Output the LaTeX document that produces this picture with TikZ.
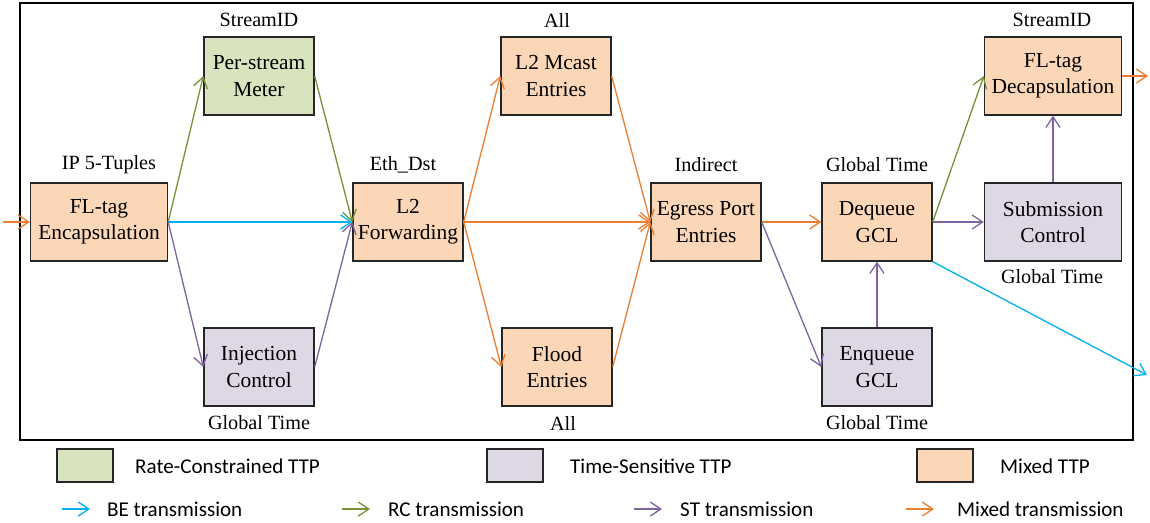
\documentclass[tikz,border=0pt]{standalone}
\usepackage{fontspec}
\setmainfont{Liberation Serif}
\newfontfamily\boxfont{Liberation Serif}
\newfontfamily\legendfont{Carlito}
\usetikzlibrary{arrows.meta}

\definecolor{mixfill}{HTML}{FBD7B8}
\definecolor{rcfill}{HTML}{D7E4BD}
\definecolor{stfill}{HTML}{DED8E6}
\definecolor{mixline}{HTML}{ED7D31}
\definecolor{rcline}{HTML}{77933C}
\definecolor{stline}{HTML}{8064A2}
\definecolor{beline}{HTML}{00B0F0}

\begin{document}
\begin{tikzpicture}[x=0.02cm,y=-0.02cm,
  ttp/.style={draw=black!85,line width=0.8pt,align=center,inner sep=0pt,
    minimum width=2.2cm,minimum height=1.56cm,
    font=\boxfont\fontsize{12.2}{15}\selectfont},
  wide/.style={minimum width=2.74cm},
  mixbox/.style={ttp,fill=mixfill},
  rcbox/.style={ttp,fill=rcfill},
  stbox/.style={ttp,fill=stfill},
  lab/.style={font=\boxfont\fontsize{11.5}{14}\selectfont},
  tip/.style={-{Straight Barb[length=6pt,width=8pt]},line width=0.75pt},
  mixed/.style={tip,mixline},
  rc/.style={tip,rcline},
  st/.style={tip,stline},
  be/.style={tip,beline},
  legtxt/.style={anchor=west,font=\legendfont\fontsize{12}{14}\selectfont}]
  \useasboundingbox (0,0) rectangle (1150,522);
  \draw[line width=0.8pt] (20,3) rectangle (1133,440);

  % boxes
  \node[mixbox,wide] (enc) at (99,222) {FL-tag\\Encapsulation};
  \node[rcbox] (meter) at (259,76) {Per-stream\\Meter};
  \node[stbox] (inj) at (259,367) {Injection\\Control};
  \node[mixbox] (fwd) at (408,222) {L2\\Forwarding};
  \node[mixbox] (mcast) at (556,76) {L2 Mcast\\Entries};
  \node[mixbox] (flood) at (557,367) {Flood\\Entries};
  \node[mixbox] (egress) at (706,222) {Egress Port\\Entries};
  \node[mixbox] (deq) at (877,222) {Dequeue\\GCL};
  \node[stbox] (enq) at (877,367) {Enqueue\\GCL};
  \node[stbox,wide] (sub) at (1053,222) {Submission\\Control};
  \node[mixbox,wide] (dec) at (1053,76) {FL-tag\\Decapsulation};

  % lookup keys
  \node[lab] (k1) at (109,165) {IP 5-Tuples};
  \node[lab] (k2) at (259,20) {StreamID};
  \node[lab] (k3) at (259,423) {Global Time};
  \node[lab] (k4) at (403,165) {Eth\_Dst};
  \node[lab] (k5) at (557,20) {All};
  \node[lab] (k6) at (563,423) {All};
  \node[lab] (k7) at (706,165) {Indirect};
  \node[lab] (k8) at (877,165) {Global Time};
  \node[lab] (k9) at (877,423) {Global Time};
  \node[lab] (k10) at (1052,277) {Global Time};
  \node[lab] (k11) at (1052,20) {StreamID};

  % connectors
  \coordinate (in) at (3,222);
  \coordinate (out) at (1148,76);
  \coordinate (beout) at (1147,375);
  \draw[mixed] (in) -- (enc.west);
  \draw[rc] (enc.east) -- (meter.west);
  \draw[rc] (meter.east) -- (fwd.west);
  \draw[be] (enc.east) -- (fwd.west);
  \draw[st] (enc.east) -- (inj.west);
  \draw[st] (inj.east) -- (fwd.west);
  \foreach \dst in {mcast,egress,flood}
    \draw[mixed] (fwd.east) -- (\dst.west);
  \draw[mixed] (mcast.east) -- (egress.west);
  \draw[mixed] (flood.east) -- (egress.west);
  \draw[mixed] (egress.east) -- (deq.west);
  \draw[st] (egress.east) -- (enq.west);
  \draw[st] (enq.north) -- (deq.south);
  \draw[st] (deq.east) -- (sub.west);
  \draw[rc] (deq.east) -- (dec.west);
  \draw[st] (sub.north) -- (dec.south);
  \draw[mixed] (dec.east) -- (out);
  \draw[be] (deq.south east) -- (beout);

  % legend
  \foreach \x/\col/\txt/\tx in {57/rcfill/Rate-Constrained TTP/129,
      487/stfill/Time-Sensitive TTP/564, 917/mixfill/Mixed TTP/994}{
    \draw[fill=\col,draw=black!85,line width=0.8pt] (\x,449) rectangle +(56,33);
    \node[legtxt] at (\tx,466) {\txt};
  }
  \foreach \x/\sty/\txt/\tx in {62/be/BE transmission/101,
      342/rc/RC transmission/382, 634/st/ST transmission/674,
      906/mixed/Mixed transmission/951}{
    \coordinate (l\sty) at (\x,509);
    \draw[\sty] (l\sty) -- +(28,0);
    \node[legtxt] at (\tx,509) {\txt};
  }
\end{tikzpicture}
\end{document}
